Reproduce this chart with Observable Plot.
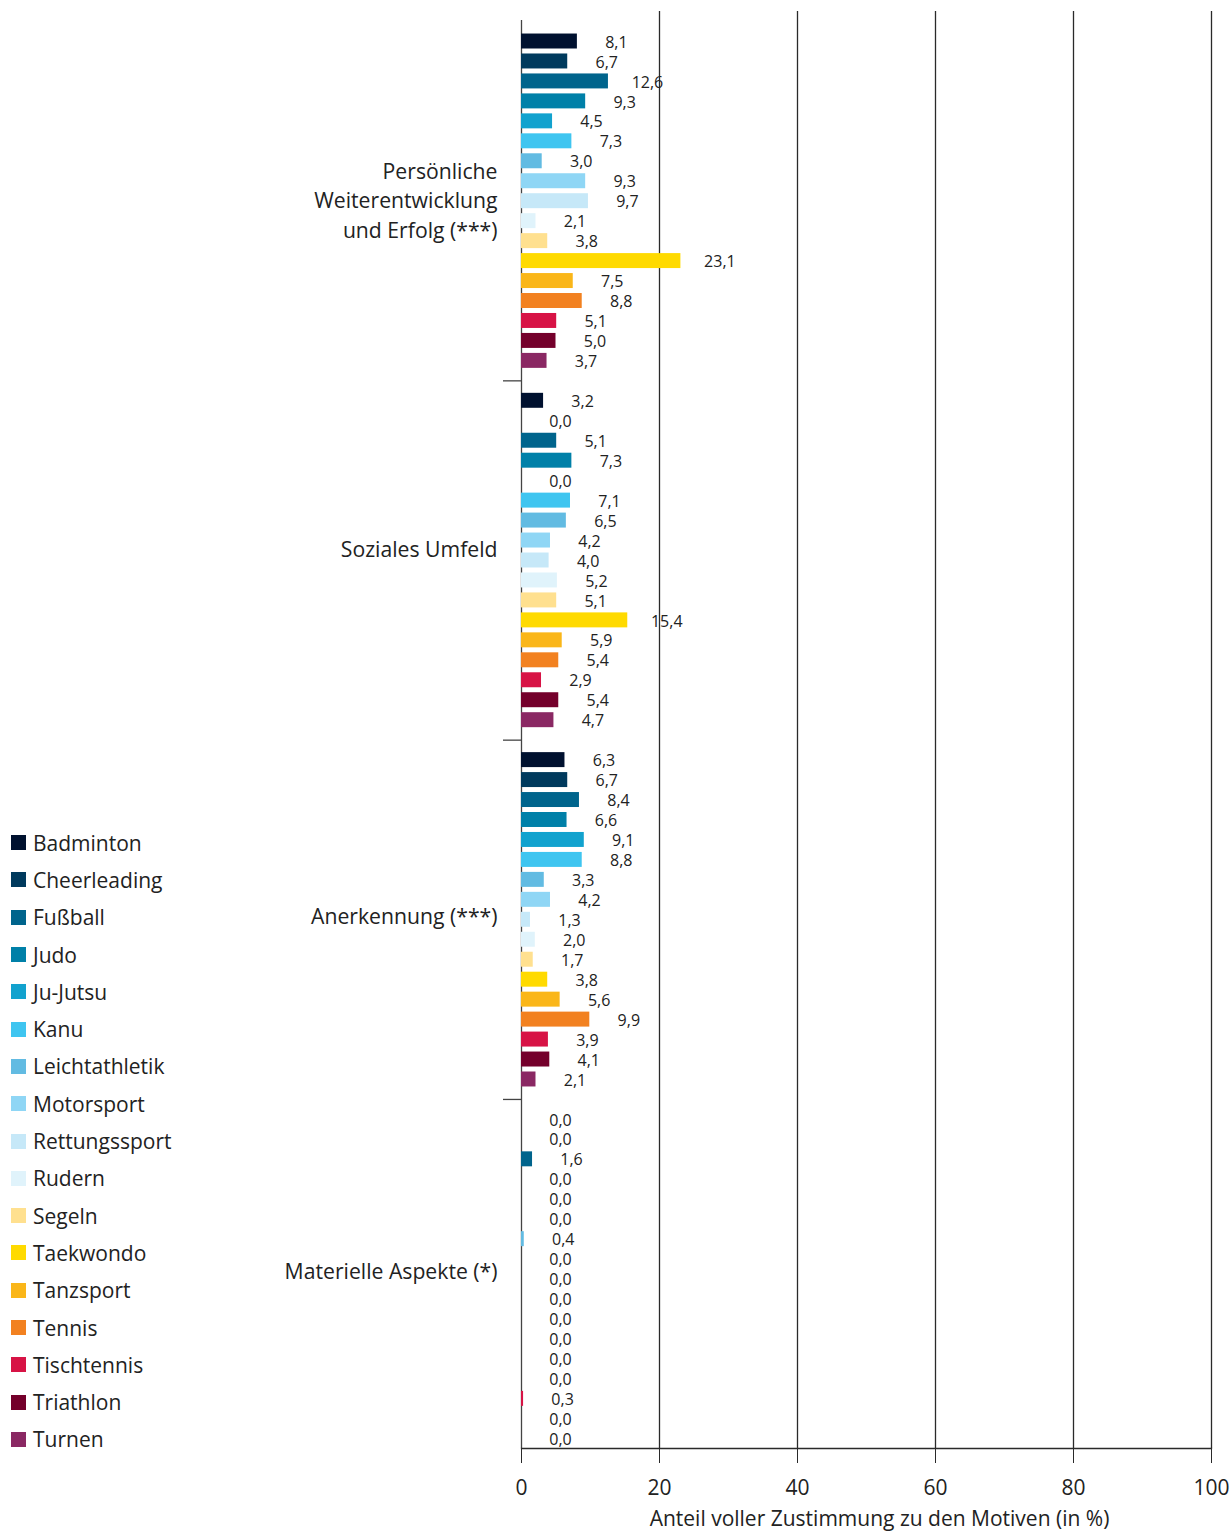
<!DOCTYPE html>
<html>
<head>
<meta charset="utf-8">
<script src="https://cdn.jsdelivr.net/npm/d3@7"></script>
<script src="https://cdn.jsdelivr.net/npm/@observablehq/plot@0.6"></script>
<style>
  html, body { margin: 0; padding: 0; background: #fff; }
  #wrap { position: relative; width: 1231px; height: 1532px; overflow: hidden; font-family: "Open Sans", "Noto Sans", sans-serif; }
  #legend { position: absolute; left: 11px; top: 824px; }
  .li { display: flex; align-items: center; height: 37.3px; font-size: 21px; color: #222; }
  .sw { width: 15px; height: 15px; margin-right: 7px; flex: none; }
</style>
</head>
<body>
<div id="wrap"><div id="chart"></div><div id="legend"></div></div>
<script>
const sports = ["Badminton","Cheerleading","Fußball","Judo","Ju-Jutsu","Kanu","Leichtathletik","Motorsport","Rettungssport","Rudern","Segeln","Taekwondo","Tanzsport","Tennis","Tischtennis","Triathlon","Turnen"];
const sportColors = ["#00112f","#003a5d","#00648c","#0080a8","#12a2ce","#3fc5f0","#62bbe2","#8fd6f5","#c6e8f8","#e0f3fb","#ffe08f","#ffda00","#fab619","#f28120","#d71345","#74002b","#8a2863"];
const motives = ["Persönliche\nWeiterentwicklung\nund Erfolg (***)","Soziales Umfeld","Anerkennung (***)","Materielle Aspekte (*)"];
const persoenlich = [8.1,6.7,12.6,9.3,4.5,7.3,3.0,9.3,9.7,2.1,3.8,23.1,7.5,8.8,5.1,5.0,3.7];
const sozial = [3.2,0.0,5.1,7.3,0.0,7.1,6.5,4.2,4.0,5.2,5.1,15.4,5.9,5.4,2.9,5.4,4.7];
const anerkennung = [6.3,6.7,8.4,6.6,9.1,8.8,3.3,4.2,1.3,2.0,1.7,3.8,5.6,9.9,3.9,4.1,2.1];
const materiell = [0.0,0.0,1.6,0.0,0.0,0.0,0.4,0.0,0.0,0.0,0.0,0.0,0.0,0.0,0.3,0.0,0.0];
const xTicks = [0,20,40,60,80,100];
const xTitle = "Anteil voller Zustimmung zu den Motiven (in %)";

const series = [persoenlich, sozial, anerkennung, materiell];
const data = [];
const yDomain = [];
const spacers = [];
series.forEach((vals, g) => {
  if (g > 0) { const sp = "sp" + g; yDomain.push(sp); spacers.push(sp); }
  sports.forEach((s, i) => {
    const key = g + "|" + s;
    yDomain.push(key);
    data.push({group: g, sport: s, key, value: vals[i]});
  });
});
const fmt = v => d3.format(".1f")(v).replace(".", ",");
const labelDy = [-2, -13, -5, -9];

const chart = Plot.plot({
  width: 1231,
  height: 1532,
  marginLeft: 521,
  marginRight: 20,
  marginTop: 11,
  marginBottom: 84,
  style: {fontFamily: "'Open Sans', 'Noto Sans', sans-serif", color: "#222", background: "#fff"},
  x: {domain: [0, 100], ticks: xTicks, label: null},
  y: {type: "band", domain: yDomain, paddingInner: 0.25, paddingOuter: 0.62, align: 0.91, round: false, axis: null},
  color: {type: "ordinal", domain: sports, range: sportColors},
  marks: [
    Plot.ruleX(xTicks.slice(1), {stroke: "#2a2a2a", strokeWidth: 1.3}),
    Plot.ruleX([0], {stroke: "#444", strokeWidth: 1.3, insetTop: 9}),
    Plot.frame({anchor: "bottom", stroke: "#2a2a2a", strokeWidth: 1.3}),
    Plot.ruleY(spacers, {x1: 0, x2: 0, insetLeft: -18, stroke: "#444", strokeWidth: 1.3}),
    Plot.barX(data, {x: "value", y: "key", fill: "sport"}),
    Plot.text(data, {x: "value", y: "key", text: d => fmt(d.value), dx: 39, dy: 1, textAnchor: "middle", fontSize: 16, fill: "#222"}),
    ...motives.map((m, g) => Plot.text([m], {x: () => 0, y: () => g + "|" + sports[8], text: d => d, textAnchor: "end", lineAnchor: "middle", dx: -24, dy: labelDy[g], fontSize: 21.2, lineHeight: 1.37, fill: "#222"})),
    Plot.axisX({ticks: xTicks, tickSize: 15, tickPadding: 17, fontSize: 21, label: null, stroke: "#2a2a2a"}),
    Plot.text([xTitle], {frameAnchor: "bottom", dy: 71, dx: 13, lineAnchor: "middle", fontSize: 21, fill: "#222"})
  ]
});
document.getElementById("chart").appendChild(chart);

const color = chart.scale("color");
const legend = document.getElementById("legend");
sports.forEach(s => {
  const item = document.createElement("div");
  item.className = "li";
  const sw = document.createElement("span");
  sw.className = "sw";
  sw.style.background = color.apply(s);
  const t = document.createElement("span");
  t.textContent = s;
  item.appendChild(sw); item.appendChild(t);
  legend.appendChild(item);
});
</script>
</body>
</html>
